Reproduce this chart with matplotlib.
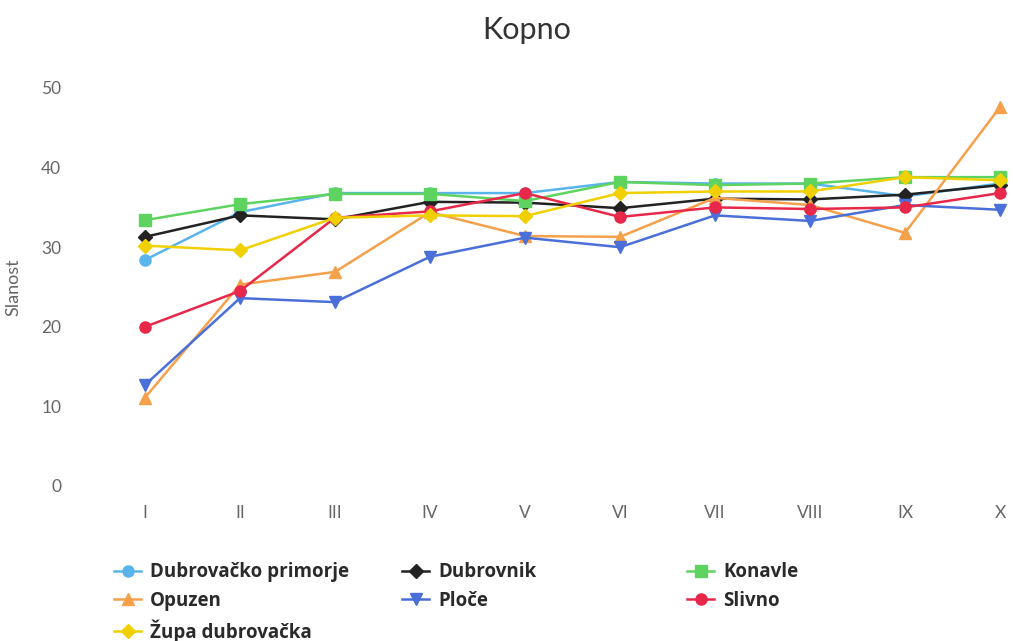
#!/usr/bin/env python3

import matplotlib
matplotlib.use("Agg")
import matplotlib.pyplot as plt
from matplotlib.lines import Line2D

#-------------------------------------------------------------
# data
months = ["I", "II", "III", "IV", "V", "VI", "VII", "VIII", "IX", "X"]

dubrovacko_primorje = [28.4, 34.4, 36.8, 36.8, 36.8, 38.2, 38.0, 38.0, 36.4, 38.0]
dubrovnik = [31.3, 34.0, 33.5, 35.7, 35.6, 34.9, 36.1, 36.0, 36.6, 37.8]
konavle = [33.4, 35.4, 36.7, 36.7, 35.8, 38.2, 37.8, 38.0, 38.8, 38.8]
opuzen = [11.1, 25.3, 26.9, 34.4, 31.4, 31.3, 36.2, 35.3, 31.8, 47.6]
ploce = [12.7, 23.6, 23.1, 28.8, 31.2, 30.0, 34.0, 33.3, 35.3, 34.7]
slivno = [20.0, 24.5, 33.7, 34.5, 36.8, 33.8, 35.0, 34.8, 35.0, 36.8]
zupa_dubrovacka = [30.2, 29.6, 33.7, 34.0, 33.9, 36.8, 37.0, 37.0, 38.8, 38.4]

series = [
    ("Dubrovačko primorje", dubrovacko_primorje, "#5ab4ec", "o"),
    ("Dubrovnik", dubrovnik, "#222222", "D"),
    ("Konavle", konavle, "#5fd35f", "s"),
    ("Opuzen", opuzen, "#f5a04a", "^"),
    ("Ploče", ploce, "#4a6fd8", "v"),
    ("Slivno", slivno, "#e8284a", "o"),
    ("Župa dubrovačka", zupa_dubrovacka, "#f0d000", "D"),
]

#-------------------------------------------------------------
def main():
    plt.rcParams["font.family"] = ["Lato", "DejaVu Sans"]

    fig = plt.figure(figsize=(10.13, 6.41), dpi=100)
    ax = fig.add_axes([97.5 / 1013, (641 - 486) / 641, 1 - 97.5 / 1013, 398 / 641])

    x = list(range(len(months)))
    handles = []
    for name, vals, color, marker in series:
        ms = 7 if marker == "D" else 8
        ax.plot(x, vals, color=color, lw=1.8, marker=marker, markersize=ms,
                markeredgecolor=color)
        handles.append(Line2D([], [], color=color, lw=1.8, marker=marker,
                              markersize=ms, markeredgecolor=color, label=name))

    ax.set_xlim(-0.5, (1013 - 145) / 95)
    ax.set_ylim(0, 50)
    ax.set_yticks([0, 10, 20, 30, 40, 50])
    ax.set_xticks(x)
    ax.set_xticklabels(months)
    ax.tick_params(length=0, labelsize=12.5, colors="#666666")
    ax.tick_params(axis="y", pad=26)
    ax.tick_params(axis="x", pad=14)
    for s in ax.spines.values():
        s.set_visible(False)
    ax.set_ylabel("Slanost", fontsize=13, color="#666666", labelpad=14)

    fig.text(527 / 1013, 1 - 30 / 641, "Kopno", ha="center", va="center",
             fontsize=22, color="#333333")

    # legend: three columns laid out row by row
    cols = [(handles[0], handles[3], handles[6]), (handles[1], handles[4]),
            (handles[2], handles[5])]
    xs = [105, 393, 678]
    for hs, xp in zip(cols, xs):
        leg = fig.legend(handles=list(hs), loc="upper left",
                         bbox_to_anchor=(xp / 1013, 1 - 553 / 641),
                         frameon=False, handlelength=1.4, handletextpad=0.5,
                         labelspacing=0.45, borderpad=0,
                         prop={"family": "Open Sans", "weight": "bold",
                               "size": 13.5})
        for t in leg.get_texts():
            t.set_color("#2a2a2a")

    fig.savefig("out.png", dpi=100)
    plt.close(fig)

#-------------------------------------------------------------
if __name__ == "__main__":
    main()
